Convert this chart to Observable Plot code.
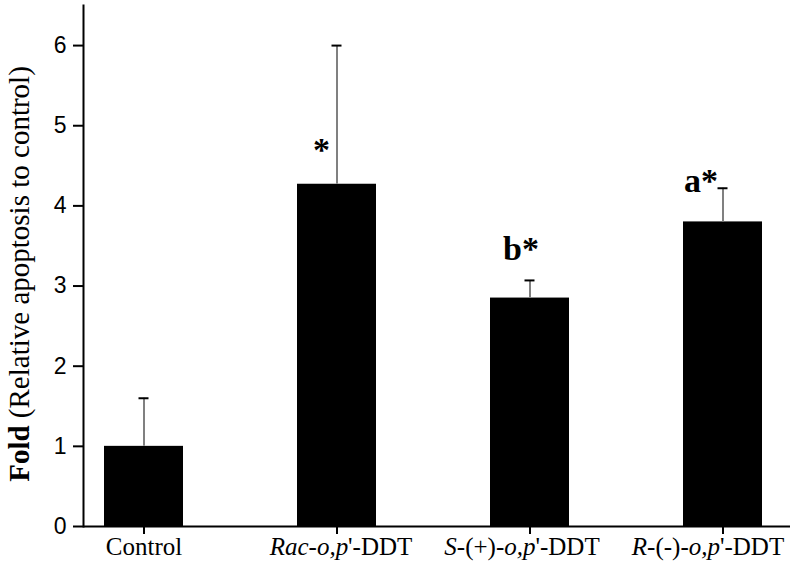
<!DOCTYPE html>
<html><head><meta charset="utf-8">
<script src="https://cdn.jsdelivr.net/npm/d3@7"></script>
<script src="https://cdn.jsdelivr.net/npm/@observablehq/plot@0.6"></script>
<style>body{margin:0;background:#fff}</style>
</head><body><div id="chart"></div>
<script>
// ---- data ----
const categories = ["Control", "Rac-o,p'-DDT", "S-(+)-o,p'-DDT", "R-(-)-o,p'-DDT"];
const tickLabelParts = [
  [["Control", false]],
  [["Rac", true], ["-", false], ["o,p", true], ["'-DDT", false]],
  [["S", true], ["-(+)-", false], ["o,p", true], ["'-DDT", false]],
  [["R", true], ["-(-)-", false], ["o,p", true], ["'-DDT", false]]
];
const values = [1.00, 4.27, 2.85, 3.80];
const errors = [0.60, 1.73, 0.22, 0.42];
const sigLabels = ["", "*", "b*", "a*"];
const sigY = [null, 4.56, 3.32, 4.17];
const yTicks = [0, 1, 2, 3, 4, 5, 6];
const yLabelBold = "Fold";
const yLabelRest = " (Relative apoptosis to control)";

const data = categories.map((c, i) => ({cat: c, v: values[i], e: errors[i], t: sigLabels[i], ty: sigY[i]}));

const serif = "'Liberation Serif', 'Times New Roman', serif";
const sans = "'Liberation Sans', Arial, sans-serif";
const sigDx = [0, -15.5, -9, -22];

const sigMarks = data.map((d, i) => d.t ? Plot.text([d], {
  x: "cat", y: "ty", text: "t", dx: sigDx[i], lineAnchor: "bottom",
  fontFamily: serif, fontWeight: "bold", fontSize: 34, fill: "#000"
}) : null).filter(Boolean);

const plot = Plot.plot({
  width: 791, height: 566,
  marginLeft: 83, marginRight: 1, marginTop: 5, marginBottom: 40,
  style: {background: "#fff", color: "#000"},
  x: {domain: categories, paddingInner: 0.593, paddingOuter: 0.119, align: 0.42, label: null},
  y: {domain: [0, 6.5], label: null},
  marks: [
    Plot.barY(data, {x: "cat", y: "v", fill: "#000"}),
    Plot.ruleX(data, {x: "cat", y1: "v", y2: d => d.v + d.e, stroke: "#808080", strokeWidth: 2}),
    Plot.tickY(data, {x: "cat", y: d => d.v + d.e, stroke: "#000", strokeWidth: 2, insetLeft: 34.5, insetRight: 34.5}),
    ...sigMarks,
    Plot.axisY({ticks: yTicks, tickFormat: d => String(d), tickSize: 10, tickPadding: 7, fontSize: 23, fontFamily: sans, label: null, strokeWidth: 2}),
    Plot.axisX({tickSize: 8, tickPadding: 3, fontSize: 25, fontFamily: serif, label: null, strokeWidth: 2}),
    Plot.frame({anchor: "left", strokeWidth: 2}),
    Plot.ruleY([0], {strokeWidth: 2})
  ]
});

document.getElementById("chart").appendChild(plot);

// y tick labels font
plot.querySelectorAll('g[aria-label="y-axis tick label"] text').forEach(el => {
  el.style.fontFamily = sans;
  el.style.fontSize = "23px";
});

// rich x tick labels (italic parts)
const labelShift = [0, 4, -8, -15];
const xTexts = plot.querySelectorAll('g[aria-label="x-axis tick label"] text');
xTexts.forEach((el, i) => {
  const idx = categories.indexOf(el.textContent);
  const k = idx >= 0 ? idx : i;
  const sel = d3.select(el);
  sel.text(null).attr("x", labelShift[k])
    .style("font-family", serif).style("font-size", "25px");
  tickLabelParts[k].forEach(([s, it]) => {
    sel.append("tspan").style("font-style", it ? "italic" : "normal").text(s);
  });
});

// y axis title
const svg = d3.select(plot);
const yt = svg.append("text")
  .attr("transform", "translate(29,274) rotate(-90)")
  .attr("text-anchor", "middle")
  .style("font-family", serif)
  .style("font-size", "29px")
  .attr("fill", "#000");
yt.append("tspan").style("font-weight", "bold").text(yLabelBold);
yt.append("tspan").text(yLabelRest);
</script>
</body></html>
